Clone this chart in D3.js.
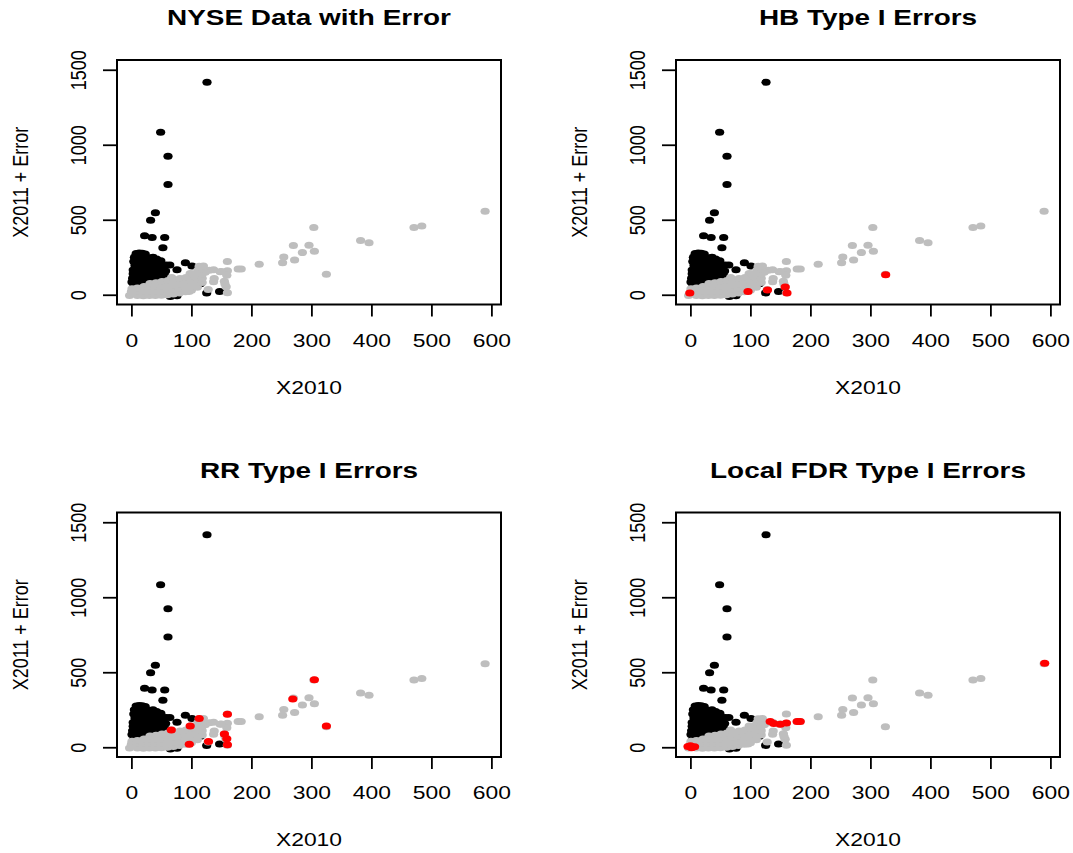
<!DOCTYPE html>
<html>
<head>
<meta charset="utf-8">
<script src="https://cdn.jsdelivr.net/npm/d3@7"></script>
<style>
  body { margin: 0; background: #fff; }
  svg text { font-family: "Liberation Sans", Arial, sans-serif; fill: #000; }
</style>
</head>
<body>
<div id="chart"></div>
<script>
const width = 1073;
const height = 853;

const titles = ["NYSE Data with Error", "HB Type I Errors", "RR Type I Errors", "Local FDR Type I Errors"];
const xTicks = [0, 100, 200, 300, 400, 500, 600];
const yTicks = [0, 500, 1000, 1500];

// non-null stocks (black)
const nonNullPoints = [
    [126, 1416], [48.7, 1083], [61, 923], [61, 735], [40, 546], [32, 496],
    [22, 393], [34.5, 381], [55.5, 381], [52.5, 314], [90, 214], [101, 192],
    [76, 166], [115, 74], [125.5, 12], [147, 21], [70, 4], [65, -12], [76, -6],
    // the dense block near the origin
    [8, 275], [13, 278], [18, 276], [23, 272],
    [5, 250], [12, 255], [20, 250], [30, 245], [36, 250], [42, 238],
    [4, 222], [10, 215], [18, 225], [26, 220], [34, 225], [44, 212], [49, 226],
    [6, 195], [14, 190], [22, 200], [30, 190], [40, 195], [52, 200], [58, 198], [64, 198],
    [3, 165], [10, 170], [18, 160], [26, 168], [34, 160], [42, 170], [50, 165], [57, 158],
    [3, 140], [9, 130], [16, 138], [24, 130], [32, 138], [40, 132], [48, 140], [55, 128],
    [2, 110], [8, 100], [15, 108], [22, 100], [30, 110], [38, 105], [45, 112],
    [1, 85], [6, 75], [12, 80], [20, 78], [28, 85],
    [4, 55], [10, 50], [16, 60]
];

// null stocks (gray)
const nullPoints = [
    [589.5, 556], [471, 448], [484, 458], [382, 361], [396, 346], [304, 449],
    [270, 328], [296, 330], [285, 281], [305, 290], [254, 252], [252, 214],
    [272, 232], [325, 137], [213, 203], [178, 172], [183, 172], [160, 222],
    [113, 190], [130, 163], [137, 167], [148, 153], [160, 160], [159, 130],
    [138, 108], [137, 86], [155, 90], [158, 54], [160, 14], [128, 35], [96, 22],
    [123, 150], [156, 72], [67, 115], [98, 142], [150, 155],
    // the band along the diagonal
    [-3, -5], [0, 20], [1, 40],
    [10, -5], [10, 25], [10, 45],
    [20, -6], [20, 25], [21, 55],
    [30, -5], [30, 25], [30, 55], [31, 75],
    [40, -5], [40, 25], [40, 55], [41, 80],
    [50, -3], [50, 25], [50, 55], [51, 88],
    [60, 0], [60, 30], [60, 60], [61, 95],
    [70, 5], [70, 35], [70, 65], [71, 100],
    [80, 12], [80, 42], [80, 72], [81, 108],
    [90, 20], [90, 50], [90, 80], [91, 115],
    [100, 30], [100, 60], [100, 90], [101, 125], [102, 140],
    [110, 50], [110, 80], [110, 110], [110, 140], [111, 165],
    [118, 82], [118, 110], [118, 140], [119, 170], [120, 192]
];

// nulls flagged by each procedure (red)
const hbErrors = [[-1, 11], [96, 22], [128.5, 31], [158, 51], [161, 11], [325.5, 134]];
const rrErrors = [
    [66.5, 115], [98, 142], [113, 192], [160, 220], [155, 89], [159, 57],
    [96.5, 20], [128.5, 38], [160, 17], [269, 322], [305, 450], [325, 141]
];
const lfdrErrors = [
    [590.5, 560], [-4, 5], [2, -3], [7, 3], [0, 10],
    [133, 171], [139, 158], [150, 154], [160, 162], [178, 171], [183, 171]
];

const panelErrors = [[], hbErrors, rrErrors, lfdrErrors];

const boxW = 384;
const boxH = 244.5;
const lefts = [117, 676];
const tops = [60, 512.5];
const stretch = "scale(1.27,1)";

const x = d3.scaleLinear().domain([-24, 616]).range([0, boxW]);
const y = d3.scaleLinear().domain([-65, 1565]).range([boxH, 0]);

const svg = d3.select("#chart").append("svg")
    .attr("width", width)
    .attr("height", height);

svg.append("rect").attr("width", width).attr("height", height).attr("fill", "#fff");

titles.forEach((title, i) => {
    const g = svg.append("g")
        .attr("transform", `translate(${lefts[i % 2]},${tops[Math.floor(i / 2)]})`);

    const dots = (pts, color) => {
        g.append("g").selectAll("ellipse")
            .data(pts)
            .join("ellipse")
            .attr("cx", d => x(d[0]))
            .attr("cy", d => y(d[1]))
            .attr("rx", 4.6)
            .attr("ry", 3.5)
            .attr("fill", color);
    };

    dots(nonNullPoints, "#000000");
    dots(nullPoints, "#bebebe");
    dots(panelErrors[i], "#ff0000");

    // x axis
    const xa = g.append("g")
        .attr("transform", `translate(0,${boxH})`)
        .call(d3.axisBottom(x).tickValues(xTicks).tickSize(12).tickFormat(d3.format("d")));
    xa.select(".domain").remove();
    xa.selectAll("line").attr("stroke", "#000").attr("stroke-width", 1.8);
    xa.selectAll("text")
        .attr("y", null).attr("dy", null)
        .attr("transform", `translate(0,42) ${stretch}`)
        .style("font-size", "18px");

    // y axis
    const ya = g.append("g")
        .call(d3.axisLeft(y).tickValues(yTicks).tickSize(14).tickFormat(d3.format("d")));
    ya.select(".domain").remove();
    ya.selectAll("line").attr("stroke", "#000").attr("stroke-width", 1.8);
    ya.selectAll("text")
        .attr("x", null).attr("dy", null)
        .attr("text-anchor", "middle")
        .attr("transform", `translate(-31,0) ${stretch} rotate(-90)`)
        .style("font-size", "18px");

    // box
    g.append("rect")
        .attr("width", boxW)
        .attr("height", boxH)
        .attr("fill", "none")
        .attr("stroke", "#000")
        .attr("stroke-width", 2);

    g.append("text")
        .attr("text-anchor", "middle")
        .attr("transform", `translate(${boxW / 2},-35) ${stretch}`)
        .style("font-size", "22px")
        .style("font-weight", "bold")
        .text(title);

    g.append("text")
        .attr("text-anchor", "middle")
        .attr("transform", `translate(${boxW / 2},${boxH + 89}) ${stretch}`)
        .style("font-size", "18px")
        .text("X2010");

    g.append("text")
        .attr("text-anchor", "middle")
        .attr("transform", `translate(-89,${boxH / 2}) ${stretch} rotate(-90)`)
        .style("font-size", "18px")
        .text("X2011 + Error");
});
</script>
</body>
</html>
